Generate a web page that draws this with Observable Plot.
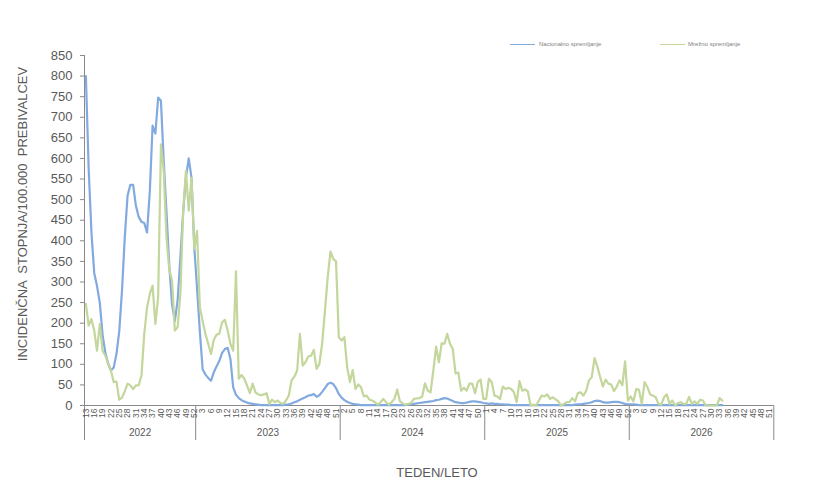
<!DOCTYPE html>
<html>
<head>
<meta charset="utf-8">
<script src="https://cdn.jsdelivr.net/npm/d3@7"></script>
<script src="https://cdn.jsdelivr.net/npm/@observablehq/plot@0.6"></script>
<style>
  body { margin: 0; background: #fff; }
  #wrap { position: relative; width: 832px; height: 488px; font-family: "Liberation Sans", Arial, sans-serif; color: #595959; }
  #chart { position: absolute; left: 0; top: 0; }
  .ov { position: absolute; white-space: pre; }
  .leg-line { position: absolute; height: 1.5px; }
  .leg-text { position: absolute; font-size: 6px; line-height: 6px; color: #7f7f7f; }
</style>
</head>
<body>
<div id="wrap">
  <div id="chart"></div>
  <div class="ov" id="ytitle" style="left:22px; top:214px; font-size:13px; transform: translate(-50%,-50%) rotate(-90deg);">INCIDENČNA  STOPNJA/100.000  PREBIVALCEV</div>
  <div class="ov" id="xtitle" style="left:437px; top:472px; font-size:13px; transform: translate(-50%,-50%);">TEDEN/LETO</div>
  <div class="leg-line" style="left:510px; top:43.5px; width:25px; background:#82AADF;"></div>
  <div class="leg-text" style="left:539px; top:41px;">Nacionalno spremljanje</div>
  <div class="leg-line" style="left:660px; top:43.5px; width:25px; background:#C3D69B;"></div>
  <div class="leg-text" style="left:688px; top:41px;">Mrežno spremljanje</div>
</div>
<script>
// ---- data ----
const years = [2022, 2023, 2024, 2025, 2026];
const firstWeek = [13, 1, 1, 1, 1];
const lastWeek = [52, 52, 52, 52, 52];
const tickStep = 3;
const yTicks = d3.range(0, 851, 50);

const seriesNames = ["Nacionalno spremljanje", "Mrežno spremljanje"];
const seriesColors = ["#82AADF", "#C3D69B"];

// Nacionalno spremljanje (one value per week from 2022 week 13)
const nacionalno = [
  800, 575, 420, 322, 290, 250, 172, 128, 102, 85,
  92, 125, 180, 280, 410, 510, 536, 536, 485, 458,
  446, 443, 420, 520, 680, 660, 748, 740, 594, 470,
  340, 245, 205, 255, 360, 470, 555, 600, 553, 385,
  284, 180, 88, 75, 67, 60, 80, 95, 108, 128,
  137, 140, 113, 44, 26, 18, 13, 10, 7, 5,
  4, 3, 2, 1, 1, 1, 1, 1, 1, 1,
  1, 1, 2, 3, 5, 8, 10, 14, 17, 20,
  24, 25, 28, 21, 25, 33, 42, 52, 55, 52,
  42, 28, 19, 13, 9, 6, 4, 3, 2, 1,
  1, 1, 1, 1, 1, 1, 1, 1, 1, 1,
  1, 1, 1, 1, 1, 1, 2, 3, 4, 5,
  6, 7, 8, 9, 10, 11, 13, 14, 16, 18,
  17, 14, 11, 8, 7, 6, 6, 7, 9, 10,
  10, 9, 8, 6, 5, 4, 5, 4, 4, 3,
  3, 2, 2, 1, 1, 1, 1, 1, 1, 1,
  1, 1, 1, 1, 1, 1, 1, 1, 1, 1,
  1, 1, 1, 1, 1, 1, 2, 3, 3, 4,
  5, 6, 8, 11, 12, 11, 8, 7, 7, 8,
  9, 9, 8, 6, 4, 3, 3, 3, 2, 1,
  1, 1, 1, 1, 1, 1, 1, 1, 1, 1,
  1, 1, 1, 1, 1, 1, 1, 1, 1, 1,
  1, 1, 1, 1, 1, 1, 1, 1, 1, 1
];

// Mrežno spremljanje
const mrezno = [
  247, 194, 210, 182, 133, 198, 133, 121, 101, 85,
  57, 58, 14, 19, 35, 53, 49, 40, 49, 49,
  73, 174, 238, 271, 291, 198, 263, 634, 570, 408,
  330, 303, 182, 190, 271, 473, 570, 473, 553, 380,
  424, 238, 205, 174, 150, 125, 159, 172, 174, 202,
  208, 182, 150, 133, 326, 65, 74, 65, 48, 30,
  53, 32, 27, 25, 27, 30, 4, 14, 8, 12,
  6, 4, 12, 24, 61, 70, 85, 174, 97, 105,
  119, 121, 135, 89, 101, 150, 230, 311, 374, 356,
  350, 166, 158, 166, 93, 57, 86, 40, 51, 44,
  22, 24, 14, 12, 8, 2, 8, 16, 8, 2,
  8, 16, 39, 10, 5, 2, 4, 6, 16, 17,
  18, 22, 54, 36, 32, 85, 143, 105, 151, 150,
  174, 150, 137, 78, 80, 36, 43, 36, 53, 53,
  30, 57, 63, 16, 16, 65, 57, 24, 22, 16,
  46, 40, 43, 40, 32, 8, 59, 36, 39, 34,
  0, 2, 0, 12, 24, 22, 27, 16, 20, 15,
  10, 0, 4, 8, 8, 18, 10, 30, 32, 24,
  36, 61, 69, 115, 95, 70, 46, 63, 53, 51,
  35, 46, 61, 49, 107, 12, 22, 10, 40, 38,
  4, 57, 45, 27, 24, 20, 4, 2, 20, 27,
  4, 12, 0, 6, 8, 4, 4, 21, 4, 10,
  4, 14, 12, 0, 0, 0, 0, 0, 18, 12
];

// ---- build categories ----
const cats = [];
const groups = [];
years.forEach((yr, k) => {
  const start = cats.length;
  for (let w = firstWeek[k]; w <= lastWeek[k]; w++) cats.push({year: yr, week: w});
  groups.push({year: yr, start: start - 0.5, end: cats.length - 0.5, mid: (start + cats.length - 1) / 2});
});
const N = cats.length;
const tickIdx = d3.range(0, N, tickStep);
const boundaries = [groups[0].start, ...groups.map(g => g.end)];

const rows = [];
[nacionalno, mrezno].forEach((arr, s) => {
  arr.forEach((v, i) => rows.push({i, v, s: seriesNames[s]}));
});

const axisColor = "#8a8a8a";
const ext = -85; // extension of category separators below the axis (data units)

const chart = Plot.plot({
  width: 832,
  height: 488,
  marginLeft: 84,
  marginRight: 58.7,
  marginTop: 55,
  marginBottom: 83,
  style: {fontFamily: "'Liberation Sans', Arial, sans-serif", color: "#595959", background: "transparent", overflow: "visible"},
  x: {type: "linear", domain: [-0.5, N - 0.5], axis: null},
  y: {domain: [0, 850], axis: null},
  color: {domain: seriesNames, range: seriesColors},
  marks: [
    Plot.axisY({ticks: yTicks, tickSize: 4, tickPadding: 8, fontSize: 13, label: null, stroke: axisColor}),
    Plot.ruleX([boundaries[0]], {y1: ext, y2: 850, stroke: axisColor}),
    Plot.ruleY([0], {x1: boundaries[0], x2: boundaries[boundaries.length - 1], stroke: axisColor}),
    Plot.ruleX(boundaries, {y1: ext, y2: 0, stroke: axisColor}),
    Plot.axisX({ticks: tickIdx, tickFormat: i => String(cats[i].week), tickRotate: -90, tickSize: 0, tickPadding: 3, fontSize: 8.5, label: null}),
    Plot.text(groups, {x: "mid", y: 0, text: d => String(d.year), dy: 27, fontSize: 10, fill: "#595959"}),
    Plot.line(rows, {x: "i", y: "v", z: "s", stroke: "s", strokeWidth: 2.2, strokeLinejoin: "round", curve: "linear"})
  ]
});
document.getElementById("chart").appendChild(chart);
</script>
</body>
</html>
